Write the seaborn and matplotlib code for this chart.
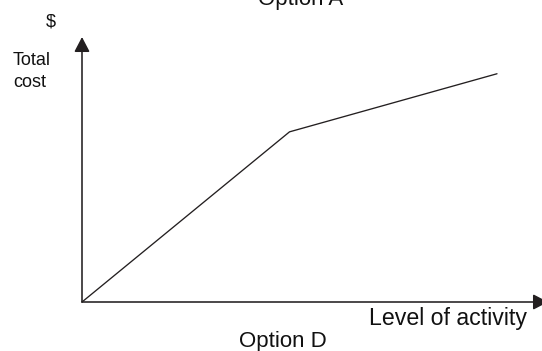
import matplotlib
matplotlib.use("Agg")
import matplotlib.pyplot as plt
import seaborn as sns
import pandas as pd

# Data (arbitrary units)
activity = [0, 50, 100]
total_cost = [0, 41, 55]

title_top = "Option A"
title_bottom = "Option D"
y_unit = "$"
y_label = "Total\ncost"
x_label = "Level of activity"

sns.set_style("white")
plt.rcParams['font.family'] = ['Liberation Sans', 'DejaVu Sans']

W, H = 542, 351
fig = plt.figure(figsize=(W / 100, H / 100), dpi=100)
ax = fig.add_axes([0, 0, 1, 1])

df = pd.DataFrame({"activity": activity, "cost": total_cost})
sns.lineplot(data=df, x="activity", y="cost", ax=ax, color="#231f20", lw=0.95)

# map: origin at pixel (82, 302), 4.15 px per unit
s = 4.15
ox, oy = 82, 302
ax.set_xlim(-ox / s, (W - ox) / s)
ax.set_ylim(-(H - oy) / s, oy / s)
ax.axis("off")

axis_col = "#231f20"
ap = dict(arrowstyle="-|>,head_length=0.9,head_width=0.47", mutation_scale=10,
          color=axis_col, lw=1.15, shrinkA=0, shrinkB=0)
ax.annotate("", xy=(0, (oy - 37) / s), xytext=(0, 0), arrowprops=ap,
            annotation_clip=False)
ax.annotate("", xy=((548 - ox) / s, 0), xytext=(0, 0), arrowprops=ap,
            annotation_clip=False)

def px(x, y):
    return x / W, 1 - y / H

fig.text(*px(301, 5), title_top, ha="center", va="baseline", fontsize=16, color="#111")
fig.text(*px(283, 347), title_bottom, ha="center", va="baseline", fontsize=16, color="#111")
fig.text(*px(369, 325), x_label, ha="left", va="baseline", fontsize=16.7, color="#111")
fig.text(*px(51, 26), y_unit, ha="center", va="baseline", fontsize=13, color="#111")
fig.text(*px(13, 65), "Total", ha="left", va="baseline", fontsize=13, color="#111")
fig.text(*px(13, 87), "cost", ha="left", va="baseline", fontsize=13, color="#111")

fig.savefig("out.png", dpi=100)
